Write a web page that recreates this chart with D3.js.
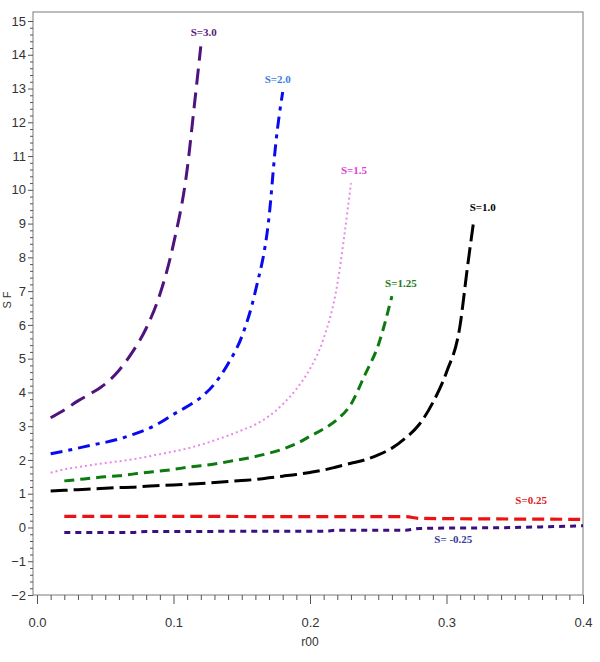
<!DOCTYPE html>
<html><head><meta charset="utf-8">
<script src="https://cdn.jsdelivr.net/npm/d3@7"></script>
<style>body{margin:0;background:#fff}svg{display:block}</style>
</head><body>
<script>
// ---- data ----
const xTicks = [0.0, 0.1, 0.2, 0.3, 0.4];
const yTicks = [-2,-1,0,1,2,3,4,5,6,7,8,9,10,11,12,13,14,15];
const xTitle = "r00";
const yTitle = "S F";

const s3x = [0.01,0.02,0.03,0.04,0.05,0.06,0.07,0.08,0.09,0.10,0.11,0.115,0.12];
const s3y = [3.25,3.48,3.75,3.98,4.25,4.65,5.2,5.9,6.9,8.4,10.6,12.4,14.25];

const s2x = [0.01,0.02,0.03,0.04,0.05,0.06,0.07,0.08,0.09,0.10,0.11,0.12,0.13,0.14,0.15,0.16,0.17,0.175,0.18];
const s2y = [2.18,2.26,2.35,2.44,2.52,2.62,2.75,2.9,3.1,3.35,3.58,3.85,4.25,4.85,5.65,7.0,9.2,11.4,12.9];

const s15x = [0.01,0.02,0.03,0.04,0.05,0.06,0.07,0.08,0.09,0.10,0.11,0.12,0.13,0.14,0.15,0.16,0.17,0.18,0.19,0.20,0.21,0.22,0.225,0.23];
const s15y = [1.62,1.72,1.79,1.85,1.91,1.96,2.02,2.09,2.17,2.25,2.34,2.45,2.58,2.72,2.88,3.05,3.3,3.65,4.1,4.7,5.6,7.2,8.6,10.2];

const s125x = [0.02,0.03,0.04,0.05,0.06,0.07,0.08,0.09,0.10,0.11,0.12,0.13,0.14,0.15,0.16,0.17,0.18,0.19,0.20,0.21,0.22,0.23,0.24,0.25,0.26];
const s125y = [1.38,1.42,1.46,1.5,1.53,1.58,1.63,1.67,1.72,1.78,1.83,1.88,1.95,2.02,2.1,2.2,2.32,2.48,2.7,2.92,3.2,3.65,4.5,5.4,6.85];

const s1x = [0.01,0.02,0.03,0.04,0.05,0.06,0.07,0.08,0.09,0.10,0.11,0.12,0.13,0.14,0.15,0.16,0.17,0.18,0.19,0.20,0.21,0.22,0.23,0.24,0.25,0.26,0.27,0.28,0.29,0.30,0.31,0.315,0.32];
const s1y = [1.08,1.1,1.12,1.14,1.16,1.18,1.19,1.22,1.24,1.26,1.28,1.3,1.33,1.36,1.39,1.42,1.47,1.52,1.57,1.63,1.7,1.8,1.9,2.0,2.15,2.35,2.65,3.05,3.7,4.6,6.0,7.6,9.1];

const s025x = [0.02,0.10,0.20,0.27,0.28,0.35,0.40];
const s025y = [0.33,0.33,0.32,0.32,0.27,0.25,0.24];

const sm025x = [0.02,0.07,0.08,0.21,0.22,0.27,0.28,0.35,0.40];
const sm025y = [-0.15,-0.15,-0.12,-0.11,-0.08,-0.08,-0.03,0.0,0.05];

const seriesNames = ["S=3.0","S=2.0","S=1.5","S=1.25","S=1.0","S=0.25","S= -0.25"];

// ---- layout ----
const W = 600, H = 662;
const frame = {left:33, right:583, top:12, bottom:595};
const x = d3.scaleLinear().domain([0,0.4]).range([37,583]);
const y = d3.scaleLinear().domain([-2,15]).range([595,21]);

const svg = d3.select("body").append("svg").attr("width",W).attr("height",H)
  .style("font-family","'Liberation Sans', Arial, sans-serif");

svg.append("rect").attr("x",frame.left).attr("y",frame.top)
  .attr("width",frame.right-frame.left).attr("height",frame.bottom-frame.top)
  .attr("fill","none").attr("stroke","#7a7a7a").attr("stroke-width",1);

// minor ticks
const xMinor = d3.range(0,41).map(i=>i/100).filter(v=>!xTicks.some(t=>Math.abs(t-v)<1e-9));
const yMinor = d3.range(-10,76).map(i=>i/5).filter(v=>v<=15.2 && !yTicks.some(t=>Math.abs(t-v)<1e-9));

const xAxisG = svg.append("g").attr("transform",`translate(0,${frame.bottom})`);
xAxisG.call(d3.axisBottom(x).tickValues(xMinor).tickSize(5).tickFormat(""));
xAxisG.append("g").call(d3.axisBottom(x).tickValues(xTicks).tickSize(9).tickPadding(14).tickFormat(d3.format(".1f")));
xAxisG.selectAll(".domain").remove();
xAxisG.selectAll("line").attr("stroke","#555");
xAxisG.selectAll("text").attr("fill","#333").style("font-size","13px").style("font-family","'Liberation Sans', Arial, sans-serif");

const yAxisG = svg.append("g").attr("transform",`translate(${frame.left},0)`);
yAxisG.call(d3.axisLeft(y).tickValues(yMinor).tickSize(3).tickFormat(""));
yAxisG.append("g").call(d3.axisLeft(y).tickValues(yTicks).tickSize(5).tickPadding(2).tickFormat(d3.format("d")));
yAxisG.selectAll(".domain").remove();
yAxisG.selectAll("line").attr("stroke","#555");
yAxisG.selectAll("text").attr("fill","#333").style("font-size","13px").style("font-family","'Liberation Sans', Arial, sans-serif");

svg.append("text").attr("x",310).attr("y",646).attr("text-anchor","middle")
  .attr("fill","#333").style("font-size","12px").text(xTitle);
svg.append("text").attr("transform","translate(11,300) rotate(-90)").attr("text-anchor","middle")
  .attr("fill","#333").style("font-size","11px").text(yTitle);

// ---- series ----
const series = [
  {xs:s3x, ys:s3y, color:"#4f137d", w:3, dash:"16,8", lc:"#5a1a78", dx:3, dy:-10},
  {xs:s2x, ys:s2y, color:"#0a0aee", w:3, dash:"12,6,4,6", lc:"#3e7de0", dx:-5, dy:-9},
  {xs:s15x, ys:s15y, color:"#e98be6", w:2, dash:"2,3", lc:"#e23fd8", dx:3, dy:-9},
  {xs:s125x, ys:s125y, color:"#0d7a10", w:3, dash:"10,6", lc:"#237a23", dx:9, dy:-9},
  {xs:s1x, ys:s1y, color:"#000000", w:3, dash:"17,6", lc:"#000000", dx:9, dy:-9},
  {xs:s025x, ys:s025y, color:"#ee1111", w:3.2, dash:"12,6", lc:"#e01a1a", lx:0.362, ly:0.7},
  {xs:sm025x, ys:sm025y, color:"#3c0f7e", w:3, dash:"6,5", lc:"#3a3a9a", lx:0.305, ly:-0.45}
];

const line = d3.line().x(d=>x(d[0])).y(d=>y(d[1])).curve(d3.curveMonotoneX);

series.forEach((s,i)=>{
  const pts = s.xs.map((v,j)=>[v, s.ys[j]]);
  svg.append("path").datum(pts).attr("d",line)
    .attr("fill","none").attr("stroke",s.color).attr("stroke-width",s.w)
    .attr("stroke-dasharray",s.dash).attr("stroke-linecap","butt");
  let tx, ty;
  if (s.lx !== undefined) { tx = x(s.lx); ty = y(s.ly); }
  else { const e = pts[pts.length-1]; tx = x(e[0]) + s.dx; ty = y(e[1]) + s.dy; }
  svg.append("text").attr("x",tx).attr("y",ty).attr("text-anchor","middle")
    .attr("fill",s.lc).style("font-family","'Liberation Serif','Times New Roman',serif")
    .style("font-weight","bold").style("font-size","11px").text(seriesNames[i]);
});
</script>
</body></html>
